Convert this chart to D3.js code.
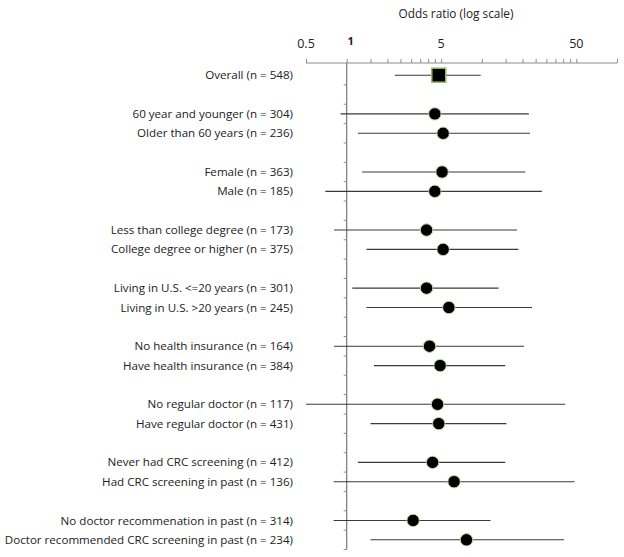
<!DOCTYPE html>
<html><head><meta charset="utf-8">
<script src="https://cdn.jsdelivr.net/npm/d3@7"></script>
<style>body{margin:0;background:#fff;} text{font-family:"Open Sans",sans-serif;fill:#222;}</style>
</head><body><svg id="c" width="624" height="557"></svg>
<script>
const labels = ["Overall (n = 548)", "",
  "60 year and younger (n = 304)", "Older than 60 years (n = 236)", "",
  "Female (n = 363)", "Male (n = 185)", "",
  "Less than college degree (n = 173)", "College degree or higher (n = 375)", "",
  "Living in U.S. <=20 years (n = 301)", "Living in U.S. >20 years (n = 245)", "",
  "No health insurance (n = 164)", "Have health insurance (n = 384)", "",
  "No regular doctor (n = 117)", "Have regular doctor (n = 431)", "",
  "Never had CRC screening (n = 412)", "Had CRC screening in past (n = 136)", "",
  "No doctor recommenation in past (n = 314)", "Doctor recommended CRC screening in past (n = 234)"];
const oddsRatio = [4.8, null, 4.49, 5.17, null, 5.08, 4.49, null, 3.90, 5.17, null, 3.90, 5.70, null, 4.10, 4.91, null, 4.70, 4.80, null, 4.32, 6.23, null, 3.10, 7.70];
const ciLow  = [2.27, null, 0.90, 1.21, null, 1.30, 0.695, null, 0.806, 1.40, null, 1.10, 1.40, null, 0.806, 1.59, null, 0.50, 1.50, null, 1.21, 0.80, null, 0.80, 1.50];
const ciHigh = [9.8, null, 22.3, 22.7, null, 21.0, 27.8, null, 18.2, 18.6, null, 13.3, 23.5, null, 20.5, 14.9, null, 41.4, 15.2, null, 14.9, 48.5, null, 11.6, 40.5];
const tickLabels = [0.5, 5, 50];
const minorTicks = [1,1.5,2,2.5,3,3.5,4,4.5,10,15,20,25,30,35,40,45];

const svg = d3.select("#c");
const x = d3.scaleLog().domain([0.5, 100]).range([306, 617]);
const y = d3.scaleBand().domain(d3.range(labels.length)).range([65.5, 549.5]);
const axisY = 63;
const grid = "#8c8c8c";

// title
svg.append("text").attr("x", 456).attr("y", 18).attr("text-anchor","middle").attr("font-size",11.8).text("Odds ratio (log scale)");

// top axis
const axis = d3.axisTop(x).tickValues(tickLabels.concat(minorTicks, [100])).tickSize(4).tickFormat("");
const ga = svg.append("g").attr("transform",`translate(0,${axisY})`).call(axis);
ga.select(".domain").attr("stroke", grid).attr("d", `M${x(0.5)},0H${x(100)}`);
ga.selectAll(".tick line").attr("stroke", grid);
svg.selectAll(".tlab").data(tickLabels).enter().append("text")
  .attr("x", d => x(d)).attr("y", 48).attr("text-anchor","middle").attr("font-size",12.5).text(d => d);
svg.append("text").attr("x", x(1)+4).attr("y", 45).attr("text-anchor","middle").attr("font-size",11).attr("font-weight","bold").text("1");

// vertical reference line at 1
const vx = x(1);
svg.append("line").attr("x1",vx).attr("x2",vx).attr("y1",axisY).attr("y2",549.5).attr("stroke","#777").attr("stroke-width",1.2);
svg.selectAll(".vt").data(d3.range(1, labels.length+1)).enter().append("line")
  .attr("x1", vx-3).attr("x2", vx).attr("y1", i => 65.5 + i*y.step()).attr("y2", i => 65.5 + i*y.step())
  .attr("stroke", grid);

// labels
svg.selectAll(".lab").data(labels).enter().append("text")
  .attr("x", 293).attr("y", (d,i) => y(i)+y.bandwidth()/2).attr("dy","0.35em")
  .attr("text-anchor","end").attr("font-size",11.6).text(d => d);

const rows = d3.range(labels.length).filter(i => oddsRatio[i] != null);
// CI lines
svg.selectAll(".ci").data(rows).enter().append("line")
  .attr("x1", i => x(ciLow[i])).attr("x2", i => x(ciHigh[i]))
  .attr("y1", i => y(i)+y.bandwidth()/2).attr("y2", i => y(i)+y.bandwidth()/2)
  .attr("stroke","#3a3a3a").attr("stroke-width",1.1);
// markers
rows.forEach(i => {
  const cx = x(oddsRatio[i]), cy = y(i)+y.bandwidth()/2;
  if (i === 0) {
    svg.append("rect").attr("x", cx-7).attr("y", cy-7).attr("width",14).attr("height",14)
      .attr("fill","#000").attr("stroke","#9bbb59").attr("stroke-width",1.5);
  } else {
    svg.append("circle").attr("cx", cx).attr("cy", cy).attr("r", 6.2)
      .attr("fill","#000").attr("stroke","#c3d69b").attr("stroke-width",1);
  }
});
</script></body></html>
